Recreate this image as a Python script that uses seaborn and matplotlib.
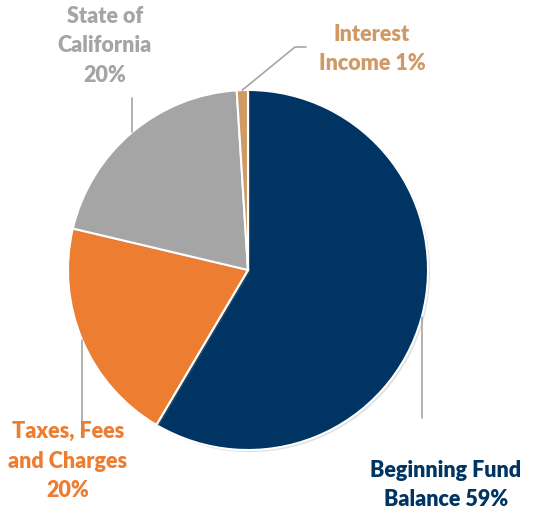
import matplotlib.pyplot as plt
import matplotlib.patheffects as pe
import numpy as np
import seaborn as sns

# revenue sources, clockwise from 12 o'clock
categories = ["Beginning Fund Balance", "Taxes, Fees and Charges",
              "State of California", "Interest Income"]
shares = [58.5, 20.2, 20.3, 1.0]
label_text = ["Beginning Fund\nBalance 59%", "Taxes, Fees\nand Charges\n20%",
              "State of\nCalifornia\n20%", "Interest\nIncome 1%"]
colors = ["#003462", "#ED7D31", "#A5A5A5", "#D09A66"]

W, H = 535, 513
CENTER = (248, H - 270)
RADIUS = 180

sns.set_theme(style="white")
plt.rcParams["font.family"] = ["Lato", "DejaVu Sans"]

fig = plt.figure(figsize=(W / 100, H / 100), dpi=100)
ax = fig.add_axes([0, 0, 1, 1])

wedges, _ = ax.pie(
    shares,
    colors=colors,
    startangle=90,
    counterclock=False,
    center=CENTER,
    radius=RADIUS,
    wedgeprops=dict(edgecolor="white", linewidth=1.5),
    frame=True,
)
for w in wedges:
    w.set_path_effects([
        pe.SimplePatchShadow(offset=(1.5, -1.5), shadow_rgbFace="#888888", alpha=0.25),
        pe.Normal(),
    ])
ax.set_xlim(0, W)
ax.set_ylim(0, H)
ax.set_aspect("equal")
ax.axis("off")

# label placement (pixel coords, y from top) and leader end points
label_pos = [(446, 485), (68, 461), (105, 46), (372, 49)]
leader_ends = [
    [("v", 418)],
    [("v", 437)],
    [("v", 98)],
    [(295, 47), (306, 47)],
]

for w, txt, col, pos, ends in zip(wedges, label_text, colors, label_pos, leader_ends):
    mid = np.deg2rad((w.theta1 + w.theta2) / 2)
    x0 = CENTER[0] + RADIUS * np.cos(mid)
    y0 = CENTER[1] + RADIUS * np.sin(mid)
    xs, ys = [x0], [y0]
    for e in ends:
        if e[0] == "v":
            xs.append(x0)
            ys.append(H - e[1])
        else:
            xs.append(e[0])
            ys.append(H - e[1])
    ax.plot(xs, ys, color="#A6A6A6", linewidth=1.2, zorder=1)
    ax.text(pos[0], H - pos[1], txt, color=col, fontsize=15.5, fontweight="heavy",
            ha="center", va="center", linespacing=1.5, zorder=3)

fig.savefig("out.png", dpi=100)
